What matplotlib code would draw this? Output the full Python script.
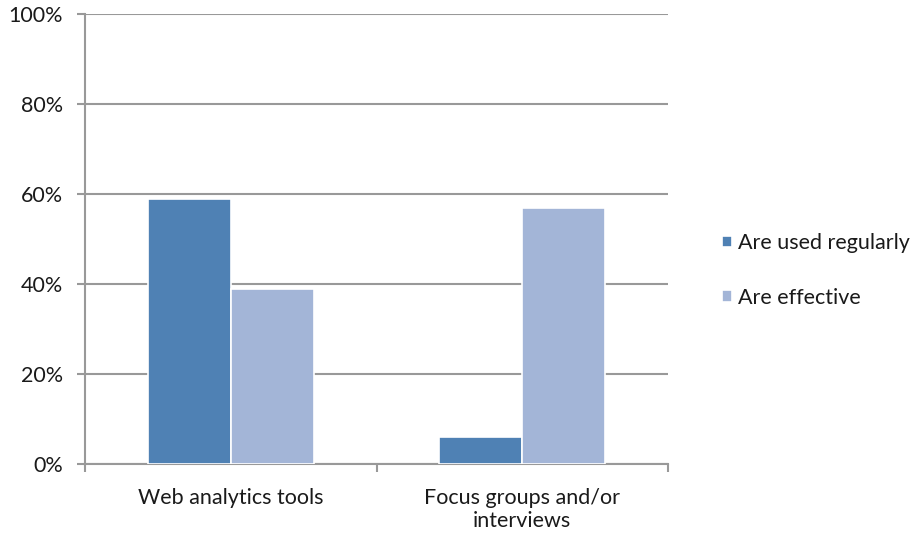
import numpy as np
import matplotlib.pyplot as plt
from matplotlib.ticker import FixedLocator, PercentFormatter

categories = ["Web analytics tools", "Focus groups and/or\ninterviews"]
used_regularly = [59, 6]
effective = [39, 57]
series_names = ["Are used regularly", "Are effective"]

plt.rcParams['font.family'] = ['Lato', 'DejaVu Sans']
grey = "#999999"

fig = plt.figure(figsize=(9.19, 5.35), dpi=100)
ax = fig.add_axes([0.0925, 0.1327, 0.6345, 0.8411])

x = np.arange(len(categories))
w = 0.285
ax.bar(x - w / 2, used_regularly, w, color="#4F81B4", edgecolor="white",
       linewidth=1.2, label=series_names[0], zorder=3)
ax.bar(x + w / 2, effective, w, color="#A3B5D7", edgecolor="white",
       linewidth=1.2, label=series_names[1], zorder=3)

ax.set_xlim(-0.5, 1.5)
ax.set_ylim(0, 100)
ax.set_yticks(np.arange(0, 101, 20))
ax.yaxis.set_major_formatter(PercentFormatter(decimals=0))
ax.yaxis.grid(True, color=grey, linewidth=1.5, zorder=0)

ax.set_xticks(x)
ax.set_xticklabels(categories, fontsize=15.5, color="#1a1a1a", linespacing=1.2)
ax.tick_params(axis="x", which="major", length=0, pad=17)
ax.xaxis.set_minor_locator(FixedLocator([-0.5, 0.5, 1.5]))
ax.tick_params(axis="x", which="minor", length=6, width=1.5, color=grey)
ax.tick_params(axis="y", length=6, width=1.5, color=grey, labelsize=15.5,
               labelcolor="#1a1a1a", pad=10)

for side in ["top", "right"]:
    ax.spines[side].set_visible(False)
for side in ["left", "bottom"]:
    ax.spines[side].set_color(grey)
    ax.spines[side].set_linewidth(1.5)

ax.legend(loc="center left", bbox_to_anchor=(1.06, 0.43), frameon=False,
          fontsize=15.5, handlelength=0.45, handleheight=0.45, handletextpad=0.25,
          labelspacing=1.6, labelcolor="#1a1a1a")

fig.savefig("out.png", dpi=100)
